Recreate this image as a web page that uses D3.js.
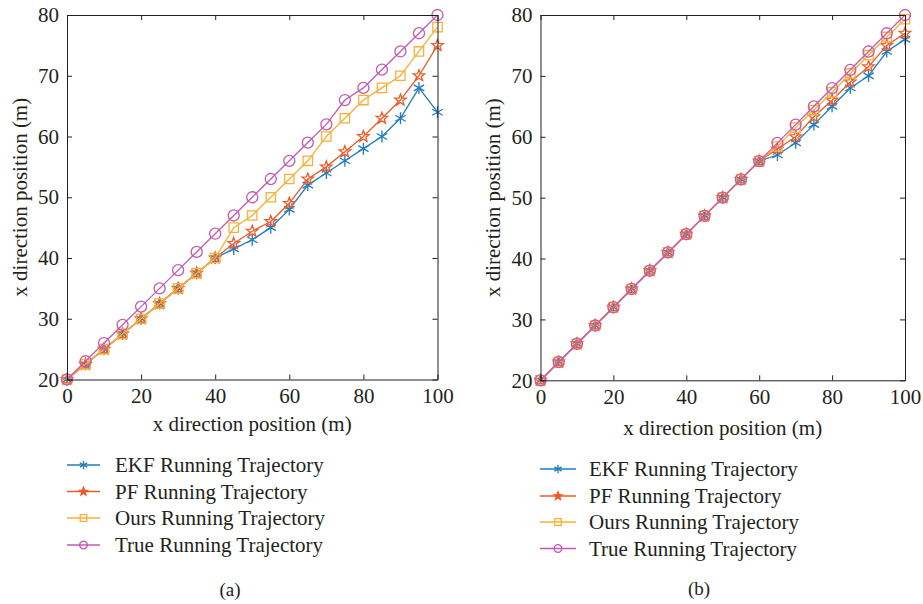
<!DOCTYPE html>
<html><head><meta charset="utf-8">
<script src="https://cdn.jsdelivr.net/npm/d3@7"></script>
<style>
body{margin:0;background:#fff;}
svg{display:block;}
svg text{font-family:"Liberation Serif","DejaVu Serif",serif !important;fill:#231f20;}
</style></head>
<body>
<svg id="chart" width="923" height="604"></svg>
<script>
// ---------- data ----------
const xValues = [0,5,10,15,20,25,30,35,40,45,50,55,60,65,70,75,80,85,90,95,100];
const seriesNames = ["EKF Running Trajectory","PF Running Trajectory","Ours Running Trajectory","True Running Trajectory"];
const seriesColors = ["#1f7cc1","#ee5a28","#fbb034","#c45ab3"];
const seriesMarkers = ["asterisk","star","square","circle"];

// panel (a)
const ekfA  = [20,22.5,25,27.5,30,32.5,35,37.5,40,41.5,43,45,48,52,54,56,58,60,63,68,64];
const pfA   = [20,22.5,25,27.5,30,32.5,35,37.5,40,42.4,44.4,46,49,53,55,57.5,60,63,66,70,75];
const oursA = [20,22.5,25,27.5,30,32.5,35,37.5,40,45,47,50,53,56,60,63,66,68,70,74,78];
const trueA = [20,23,26,29,32,35,38,41,44,47,50,53,56,59,62,66,68,71,74,77,80];

// panel (b)
const ekfB  = [20,23,26,29,32,35,38,41,44,47,50,53,56,57,59,62,65,68,70,74,76];
const pfB   = [20,23,26,29,32,35,38,41,44,47,50,53,56,58,60,63.3,66,69,71.5,75,77];
const oursB = [20,23,26,29,32,35,38,41,44,47,50,53,56,58.4,61.5,64.4,67.3,70.4,73.4,76.4,79.3];
const trueB = [20,23,26,29,32,35,38,41,44,47,50,53,56,59,62,65,68,71,74,77,80];

const xTicks = [0,20,40,60,80,100];
const yTicks = [20,30,40,50,60,70,80];
const xTitle = "x direction position (m)";
const yTitle = "x direction position (m)";
const panelLabels = ["(a)","(b)"];

// ---------- drawing ----------
const svg = d3.select("#chart");
const FONT = '"Liberation Serif","DejaVu Serif",serif';

function markerPath(type, s) {
  const p = d3.path();
  if (type === "asterisk") {
    const r = s, t = r/2, u = t*Math.sqrt(3);
    p.moveTo(0,-r); p.lineTo(0,r);
    p.moveTo(-u,-t); p.lineTo(u,t);
    p.moveTo(-u,t); p.lineTo(u,-t);
  } else if (type === "star") {
    const R = s, r = s*0.42;
    for (let i=0;i<10;i++){
      const a = -Math.PI/2 + i*Math.PI/5;
      const rr = i%2===0 ? R : r;
      const x = rr*Math.cos(a), y = rr*Math.sin(a);
      if (i===0) p.moveTo(x,y); else p.lineTo(x,y);
    }
    p.closePath();
  } else if (type === "square") {
    p.rect(-s*0.78,-s*0.78,s*1.56,s*1.56);
  } else {
    p.arc(0,0,s*0.92,0,2*Math.PI);
  }
  return p.toString();
}

function drawPanel(cfg) {
  const x = d3.scaleLinear().domain([0,100]).range([cfg.x0,cfg.x1]);
  const y = d3.scaleLinear().domain([20,80]).range([cfg.y1,cfg.y0]);
  const g = svg.append("g").attr("font-family",FONT);

  const line = d3.line().x((d,i)=>x(xValues[i])).y(d=>y(d));
  cfg.series.forEach((vals,k)=>{
    g.append("path").datum(vals).attr("d",line)
      .attr("fill","none").attr("stroke",seriesColors[k]).attr("stroke-width",1.3);
    g.selectAll(null).data(vals).enter().append("path")
      .attr("transform",(d,i)=>`translate(${x(xValues[i])},${y(d)})`)
      .attr("d",markerPath(seriesMarkers[k],6))
      .attr("fill","none").attr("stroke",seriesColors[k]).attr("stroke-width",1.3);
  });

  const tickLen = 5;
  const axB = d3.axisBottom(x).tickValues(xTicks).tickSizeInner(-tickLen).tickSizeOuter(0).tickPadding(9);
  const axT = d3.axisTop(x).tickValues(xTicks).tickSizeInner(-tickLen).tickSizeOuter(0).tickFormat("");
  const axL = d3.axisLeft(y).tickValues(yTicks).tickSizeInner(-tickLen).tickSizeOuter(0).tickPadding(8);
  const axR = d3.axisRight(y).tickValues(yTicks).tickSizeInner(-tickLen).tickSizeOuter(0).tickFormat("");
  [[axB,`translate(0,${cfg.y1})`],[axT,`translate(0,${cfg.y0})`],[axL,`translate(${cfg.x0},0)`],[axR,`translate(${cfg.x1},0)`]]
    .forEach(([ax,tr])=>{
      const a = g.append("g").attr("transform",tr).call(ax).attr("font-family",FONT).attr("font-size",21);
      a.selectAll("path,line").attr("stroke","#231f20").attr("stroke-width",1);
      a.selectAll("text").attr("fill","#231f20");
    });

  g.append("text").attr("x",(cfg.x0+cfg.x1)/2).attr("y",cfg.xTitleY)
    .attr("text-anchor","middle").attr("font-size",21).text(xTitle);
  g.append("text").attr("transform",`translate(${cfg.yTitleX},${(cfg.y0+cfg.y1)/2}) rotate(-90)`)
    .attr("text-anchor","middle").attr("font-size",21).text(yTitle);

  cfg.legendRows.forEach((ly,k)=>{
    g.append("line").attr("x1",cfg.legX0).attr("x2",cfg.legX1).attr("y1",ly).attr("y2",ly)
      .attr("stroke",seriesColors[k]).attr("stroke-width",1.6);
    g.append("path").attr("transform",`translate(${(cfg.legX0+cfg.legX1)/2},${ly})`)
      .attr("d",markerPath(seriesMarkers[k],4.2))
      .attr("fill",seriesMarkers[k]==="star"?seriesColors[k]:"none")
      .attr("stroke",seriesColors[k]).attr("stroke-width",1.3);
    g.append("text").attr("x",cfg.legTextX).attr("y",ly).attr("dy","0.35em")
      .attr("font-size",21).text(seriesNames[k]);
  });
  g.append("text").attr("x",cfg.labelX).attr("y",cfg.labelY).attr("dy","0.35em")
    .attr("text-anchor","middle").attr("font-size",19).text(cfg.label);
}

drawPanel({x0:67,x1:437.5,y0:15,y1:379.5,series:[ekfA,pfA,oursA,trueA],
  xTitleY:431,yTitleX:27,legX0:67,legX1:100,legTextX:115,
  legendRows:[465,491.5,518,545],labelX:230,labelY:589,label:panelLabels[0]});
drawPanel({x0:540.5,x1:905,y0:15,y1:380.3,series:[ekfB,pfB,oursB,trueB],
  xTitleY:435,yTitleX:500,legX0:540,legX1:576,legTextX:589,
  legendRows:[469,496,522,548.5],labelX:699,labelY:588,label:panelLabels[1]});
</script>
</body></html>
